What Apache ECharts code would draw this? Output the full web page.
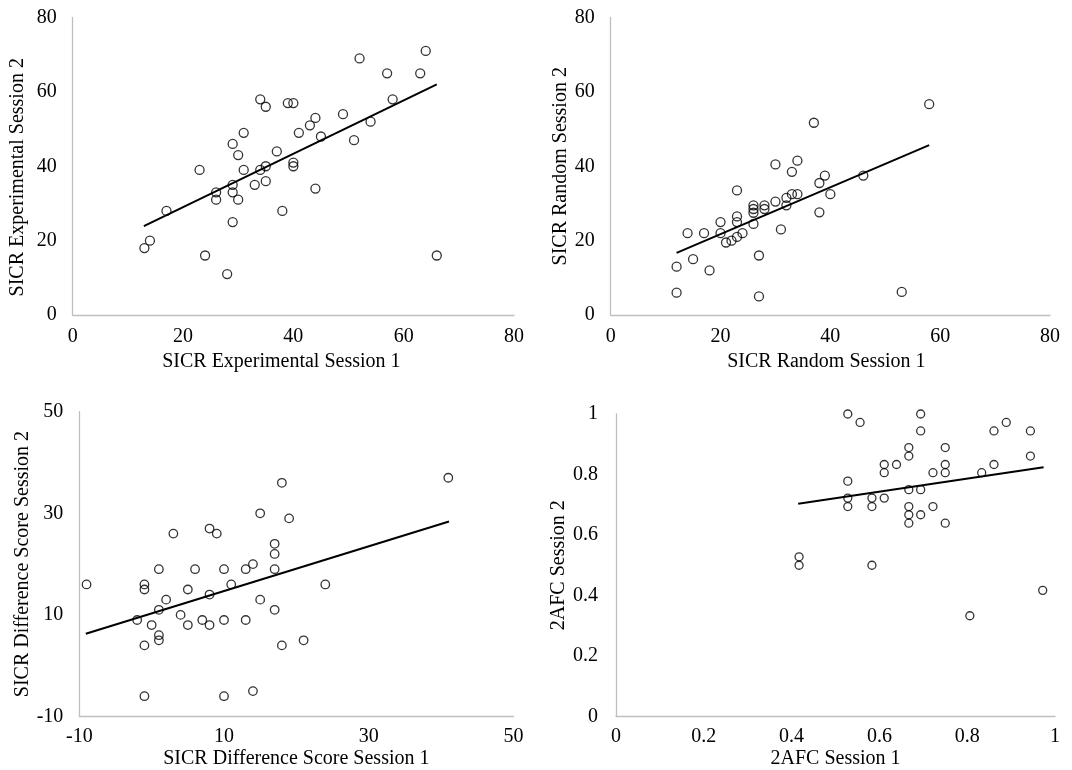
<!DOCTYPE html>
<html><head><meta charset="utf-8">
<script src="https://cdn.jsdelivr.net/npm/echarts/dist/echarts.min.js"></script>
<style>html,body{margin:0;padding:0;background:#fff}#c{width:1072px;height:770px}</style>
</head><body><div id="c"></div>
<script>
// Panel 1: SICR Experimental
const expS1 = [13,14,17,23,24,28,26,26,29,30,31,31,29,29,30,29,33,34,35,34,35,35,37,38,39,40,44,43,41,45,49,52,54,51,57,58,63,64,66,40,40,44];
const expS2 = [18,20,28,39,16,11,33,31,46,43,49,39,35,33,31,25,35,58,56,39,40,36,44,28,57,57,53,51,49,48,54,69,52,47,65,58,65,71,16,41,40,34];
const expTrendX = [12.9, 66];
const expTrendY = [23.9, 62];

// Panel 2: SICR Random
const rndS1 = [12,12,14,15,17,18,20,20,21,22,23,24,23,23,23,26,26,26,26,27,27,28,28,30,30,31,32,32,33,34,33,34,37,38,39,40,38,46,58,53];
const rndS2 = [13,6,22,15,22,12,25,22,19.5,20,21,22,33.5,26.5,25,29.5,28.5,27.5,24.5,16,5,29.5,28.5,40.5,30.5,23,31.5,29.5,32.5,32.5,38.5,41.5,51.7,35.5,37.5,32.5,27.6,37.5,56.7,6.2];
const rndTrendX = [12, 58];
const rndTrendY = [16.7, 45.7];

// Panel 3: SICR Difference Score
const difS1 = [-9,-2,-1,-1,-1,-1,0,1,1,1,1,2,3,4,5,5,6,7,8,9,8,8,10,10,10,11,13,13,14,14,15,15,17,17,17,17,18,18,19,24,21,41];
const difS2 = [16,9,16,15,4,-6,8,19,11,6,5,13,26,10,15,8,19,9,27,26,14,8,19,9,-6,16,19,9,20,-5,30,13,24,22,19,11,36,4,29,16,5,37];
const difTrendX = [-9.1, 41.1];
const difTrendY = [6.3, 28.4];

// Panel 4: 2AFC
const afcS1 = [0.417,0.417,0.528,0.556,0.528,0.528,0.528,0.583,0.583,0.583,0.611,0.611,0.611,0.639,0.667,0.667,0.667,0.667,0.667,0.667,0.694,0.694,0.694,0.694,0.722,0.722,0.75,0.75,0.75,0.75,0.806,0.833,0.861,0.861,0.889,0.944,0.944,0.972];
const afcS2 = [0.528,0.5,1.0,0.972,0.778,0.722,0.694,0.722,0.694,0.5,0.833,0.806,0.722,0.833,0.889,0.861,0.75,0.694,0.667,0.639,1.0,0.944,0.75,0.667,0.806,0.694,0.889,0.833,0.806,0.639,0.333,0.806,0.944,0.833,0.972,0.944,0.861,0.417];
const afcTrendX = [0.415, 0.974];
const afcTrendY = [0.703, 0.824];

const FONT = '"Liberation Serif", "Times New Roman", serif';
const FS = 20;
const zip = (a, b) => a.map((v, i) => [v, b[i]]);

function xAx(gi, min, max, interval, name, gap, margin, pad) {
  return {
    gridIndex: gi, type: 'value', min, max, interval,
    name, nameLocation: 'middle', nameGap: gap,
    nameTextStyle: { fontFamily: FONT, fontSize: FS, color: '#000', padding: pad || 0 },
    axisLine: { show: true, onZero: false, lineStyle: { color: '#bfbfbf', width: 1.3 } },
    axisTick: { show: false }, splitLine: { show: false },
    axisLabel: { margin, fontFamily: FONT, fontSize: FS, color: '#000' }
  };
}
function yAx(gi, min, max, interval, name, gap, margin, pad) {
  return {
    gridIndex: gi, type: 'value', min, max, interval,
    name, nameLocation: 'middle', nameGap: gap,
    nameTextStyle: { fontFamily: FONT, fontSize: FS, color: '#000', padding: pad || 0 },
    axisLine: { show: true, onZero: false, lineStyle: { color: '#bfbfbf', width: 1.3 } },
    axisTick: { show: false }, splitLine: { show: false },
    axisLabel: { margin, fontFamily: FONT, fontSize: FS, color: '#000' }
  };
}
function scat(gi, data, size) {
  return {
    type: 'scatter', xAxisIndex: gi, yAxisIndex: gi, data, symbol: 'circle', symbolSize: size,
    itemStyle: { color: 'rgba(255,255,255,0)', borderColor: '#000', borderWidth: 1.3 },
    z: 3, silent: true
  };
}
function trend(gi, xs, ys) {
  return {
    type: 'line', xAxisIndex: gi, yAxisIndex: gi, data: zip(xs, ys), symbol: 'none',
    lineStyle: { color: '#000', width: 2 }, z: 2, silent: true
  };
}

const chart = echarts.init(document.getElementById('c'), null, { renderer: 'canvas' });
chart.setOption({
  animation: false,
  backgroundColor: '#fff',
  grid: [
    { left: 72.7, right: 558, top: 17.5, bottom: 455 },
    { left: 610.7, right: 22, top: 17.5, bottom: 455 },
    { left: 79.3, right: 558.6, top: 411.7, bottom: 53.3 },
    { left: 616, right: 17, top: 414, bottom: 53.3 }
  ],
  xAxis: [
    xAx(0, 0, 80, 20, 'SICR Experimental Session 1', 37, 12, [0, 24, 0, 0]),
    xAx(1, 0, 80, 20, 'SICR Random Session 1', 37, 12, [0, 8, 0, 0]),
    xAx(2, -10, 50, 20, 'SICR Difference Score Session 1', 32.5, 10),
    xAx(3, 0, 1, 0.2, '2AFC Session 1', 32.5, 10)
  ],
  yAxis: [
    yAx(0, 0, 80, 20, 'SICR Experimental Session 2', 45.2, 16, [0, 22, 0, 0]),
    yAx(1, 0, 80, 20, 'SICR Random Session 2', 39, 16),
    yAx(2, -10, 50, 20, 'SICR Difference Score Session 2', 46.6, 16),
    yAx(3, 0, 1, 0.2, '2AFC Session 2', 43.3, 18)
  ],
  series: [
    trend(0, expTrendX, expTrendY), scat(0, zip(expS1, expS2), 9),
    trend(1, rndTrendX, rndTrendY), scat(1, zip(rndS1, rndS2), 9),
    trend(2, difTrendX, difTrendY), scat(2, zip(difS1, difS2), 8.5),
    trend(3, afcTrendX, afcTrendY), scat(3, zip(afcS1, afcS2), 8)
  ]
});
</script>
</body></html>
